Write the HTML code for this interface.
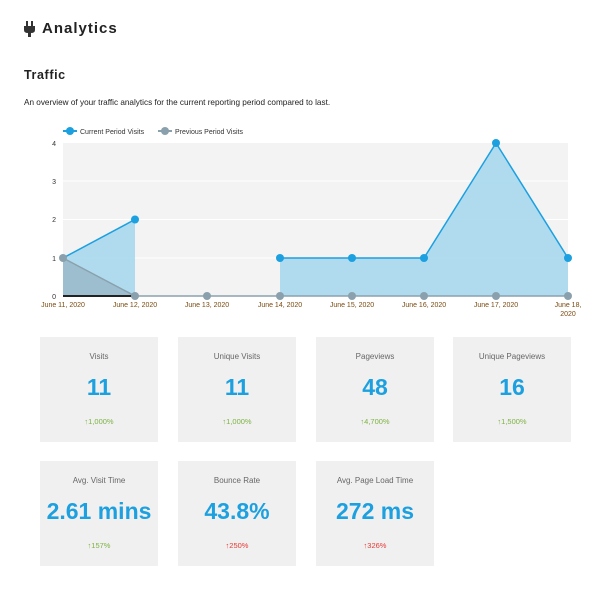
<!DOCTYPE html>
<html><head><meta charset="utf-8"><style>
body{margin:0;width:610px;height:589px;background:#fff;font-family:"Liberation Sans",sans-serif;position:relative;overflow:hidden}
.a{position:absolute}
.card{position:absolute;width:118px;height:105px;background:#f0f0f0;text-align:center}
.card .t{position:absolute;top:15px;width:100%;font-size:8px;color:#666}
.card .v{position:absolute;top:37px;width:100%;font-size:23px;font-weight:bold;color:#1ca0e0}
.card .p{position:absolute;top:80px;width:100%;font-size:7.5px;color:#7cb342}
.card .p.r{color:#e53935}
</style></head><body>
<svg class="a" style="left:24px;top:21px" width="12" height="16"><rect x="2" y="0" width="2" height="5" fill="#333"/><rect x="7" y="0" width="2" height="5" fill="#333"/><path d="M0 5H11V9Q11 12 7 12V16H4V12Q0 12 0 9Z" fill="#333"/></svg>
<div class="a" style="left:42px;top:20px;font-size:15px;font-weight:bold;letter-spacing:1px;color:#222">Analytics</div>
<div class="a" style="left:24px;top:68px;font-size:12.5px;font-weight:bold;letter-spacing:0.6px;color:#222">Traffic</div>
<div class="a" style="left:24px;top:98px;font-size:8.2px;color:#222">An overview of your traffic analytics for the current reporting period compared to last.</div>
<svg class="a" style="left:0;top:0" width="610" height="330" font-family="Liberation Sans" font-size="7">
<line x1="63" y1="131" x2="77" y2="131" stroke="#1ca0e0" stroke-width="2"/><circle cx="70" cy="131" r="4" fill="#1ca0e0"/>
<text x="80" y="134" fill="#333">Current Period Visits</text>
<line x1="158" y1="131" x2="172" y2="131" stroke="#8aa1ad" stroke-width="2"/><circle cx="165" cy="131" r="4" fill="#8aa1ad"/>
<text x="175" y="134" fill="#333">Previous Period Visits</text>
<rect x="63" y="143" width="505" height="153" fill="#f3f3f3"/>
<g stroke="#fff" stroke-width="1"><line x1="63" x2="568" y1="181" y2="181"/><line x1="63" x2="568" y1="219.5" y2="219.5"/><line x1="63" x2="568" y1="258" y2="258"/></g>
<g fill="#333" text-anchor="end"><text x="56" y="146">4</text><text x="56" y="184">3</text><text x="56" y="222">2</text><text x="56" y="261">1</text><text x="56" y="299">0</text></g>
<path d="M63 258L135 219.5L135 296L63 296Z" fill="#a9d8ee" opacity=".9"/>
<path d="M280 258L352 258L424 258L496 143L568 258L568 296L280 296Z" fill="#a9d8ee" opacity=".9"/>
<path d="M63 258L135 296L63 296Z" fill="#8aa1ad" opacity=".5"/>
<line x1="63" y1="296" x2="135" y2="296" stroke="#222" stroke-width="2"/>
<polyline points="135,296 568,296" stroke="#8aa1ad" stroke-width="1.5" fill="none"/>
<polyline points="63,258 135,296" stroke="#8aa1ad" stroke-width="1.5" fill="none"/>
<polyline points="63,258 135,219.5" stroke="#1ca0e0" stroke-width="1.5" fill="none"/>
<polyline points="280,258 352,258 424,258 496,143 568,258" stroke="#1ca0e0" stroke-width="1.5" fill="none"/>
<g fill="#1ca0e0"><circle cx="135" cy="219.5" r="4"/><circle cx="280" cy="258" r="4"/><circle cx="352" cy="258" r="4"/><circle cx="424" cy="258" r="4"/><circle cx="496" cy="143" r="4"/><circle cx="568" cy="258" r="4"/></g>
<g fill="#8aa1ad"><circle cx="63" cy="258" r="4"/><circle cx="135" cy="296" r="4"/><circle cx="207" cy="296" r="4"/><circle cx="280" cy="296" r="4"/><circle cx="352" cy="296" r="4"/><circle cx="424" cy="296" r="4"/><circle cx="496" cy="296" r="4"/><circle cx="568" cy="296" r="4"/></g>
<g fill="#7a4a10" text-anchor="middle"><text x="63" y="307">June 11, 2020</text><text x="135" y="307">June 12, 2020</text><text x="207" y="307">June 13, 2020</text><text x="280" y="307">June 14, 2020</text><text x="352" y="307">June 15, 2020</text><text x="424" y="307">June 16, 2020</text><text x="496" y="307">June 17, 2020</text><text x="568" y="307">June 18,</text><text x="568" y="316">2020</text></g>
</svg>
<div class="card" style="left:40px;top:337px"><div class="t">Visits</div><div class="v">11</div><div class="p">↑1,000%</div></div>
<div class="card" style="left:178px;top:337px"><div class="t">Unique Visits</div><div class="v">11</div><div class="p">↑1,000%</div></div>
<div class="card" style="left:316px;top:337px"><div class="t">Pageviews</div><div class="v">48</div><div class="p">↑4,700%</div></div>
<div class="card" style="left:453px;top:337px"><div class="t">Unique Pageviews</div><div class="v">16</div><div class="p">↑1,500%</div></div>
<div class="card" style="left:40px;top:461px"><div class="t">Avg. Visit Time</div><div class="v">2.61 mins</div><div class="p">↑157%</div></div>
<div class="card" style="left:178px;top:461px"><div class="t">Bounce Rate</div><div class="v">43.8%</div><div class="p r">↑250%</div></div>
<div class="card" style="left:316px;top:461px"><div class="t">Avg. Page Load Time</div><div class="v">272 ms</div><div class="p r">↑326%</div></div>
</body></html>
